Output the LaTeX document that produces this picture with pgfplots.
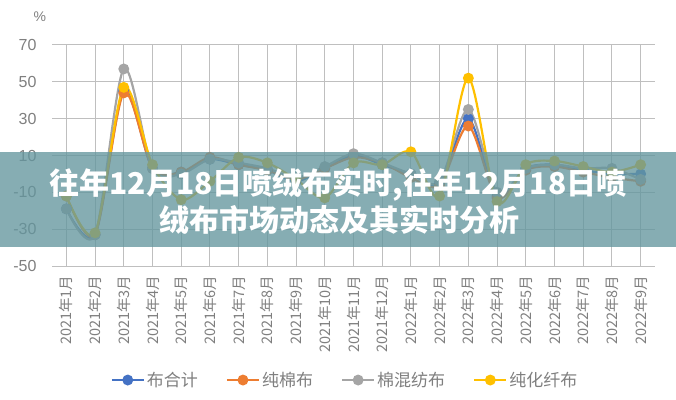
\documentclass[border=0pt]{standalone}
\usepackage{pgfplots}
\pgfplotsset{compat=1.18}
\usepackage{pgfplotstable}
\usepackage{fontspec}
\setmainfont{Liberation Sans}
\newfontfamily\cjk{Noto Sans CJK SC}
\definecolor{cB}{HTML}{4472C4}
\definecolor{cO}{HTML}{ED7D31}
\definecolor{cG}{HTML}{A5A5A5}
\definecolor{cY}{HTML}{FFC000}
\definecolor{txt}{HTML}{7F7F7F}
\definecolor{grid}{HTML}{D9D9D9}
\definecolor{band}{RGB}{100,150,158}
\pgfplotstableread{
x b o g y
0 -19 -12 -19 -12
1 -33 -33 -33 -32
2 45 44 57 47
3 3 3 3 5
4 1 1 0 -14
5 8 9 8 -4
6 5 5 6 9
7 2 2 3 6
8 -4 -3 -2 -3
9 3 3 4 -13
10 10 9 11 6
11 5 6 6 5
12 0 -2 0 12
13 -5 -6 -4 -12
14 30 26 35 52
15 -12 -13 -10 -15
16 3 2 3 5
17 5 4 5 7
18 2 1 3 4
19 0 -2 3 1
20 0 -4 -3 5
}\data
\begin{document}
\begin{tikzpicture}
\path[use as bounding box] (0,0) rectangle (676bp,400bp);
\begin{axis}[
  at={(52bp,134bp)}, anchor=south west,
  scale only axis, width=603bp, height=221bp,
  clip=false,
  xmin=-0.5, xmax=20.5, ymin=-50, ymax=70,
  ytick={-50,-30,-10,10,30,50,70},
  xtick={0,...,20},
  xticklabels={2021年1月,2021年2月,2021年3月,2021年4月,2021年5月,2021年6月,2021年7月,2021年8月,2021年9月,2021年10月,2021年11月,2021年12月,2022年1月,2022年2月,2022年3月,2022年4月,2022年5月,2022年6月,2022年7月,2022年8月,2022年9月},
  xticklabel style={rotate=90, anchor=east, font=\cjk\fontsize{14.5bp}{14.5bp}\selectfont, text=txt, xshift=-6bp},
  yticklabel style={font=\fontsize{16bp}{16bp}\selectfont, text=txt, xshift=-12bp},
  /pgf/number format/assume math mode=true,
  axis line style={draw=none},
  tick style={draw=none},
  ymajorgrids, grid style={grid, line width=1bp},
  legend columns=4,
  legend style={at={(0.486,-0.516)}, anchor=center, draw=none, fill=none,
    font=\cjk\fontsize{17bp}{17bp}\selectfont, text=txt,
    /tikz/every even column/.append style={column sep=26bp}},
  legend image code/.code={\draw[#1, mark repeat=2, mark phase=2] plot coordinates {(0bp,0bp) (16bp,0bp) (32bp,0bp)};},
  every axis plot/.append style={line width=2.2bp, smooth, mark=*, mark size=4.3bp},
]
\addplot[cB, mark options={fill=cB, draw=cB}] table[x=x, y=b] {\data};
\addlegendentry{布合计}
\addplot[cO, mark options={fill=cO, draw=cO}] table[x=x, y=o] {\data};
\addlegendentry{纯棉布}
\addplot[cG, mark options={fill=cG, draw=cG}] table[x=x, y=g] {\data};
\addlegendentry{棉混纺布}
\addplot[cY, mark options={fill=cY, draw=cY}] table[x=x, y=y] {\data};
\addlegendentry{纯化纤布}
\node[text=txt, font=\fontsize{14bp}{14bp}\selectfont] at (axis description cs:-0.02,1.127) {\%};
\end{axis}
\fill[band, opacity=0.78] (0,153bp) rectangle (676bp,248bp);
\node[text=white, font=\cjk\bfseries\fontsize{30bp}{30bp}\selectfont] at (338bp,215bp) {往年12月18日喷绒布实时,往年12月18日喷};
\node[text=white, font=\cjk\bfseries\fontsize{30bp}{30bp}\selectfont] at (339bp,180bp) {绒布市场动态及其实时分析};
\end{tikzpicture}
\end{document}
